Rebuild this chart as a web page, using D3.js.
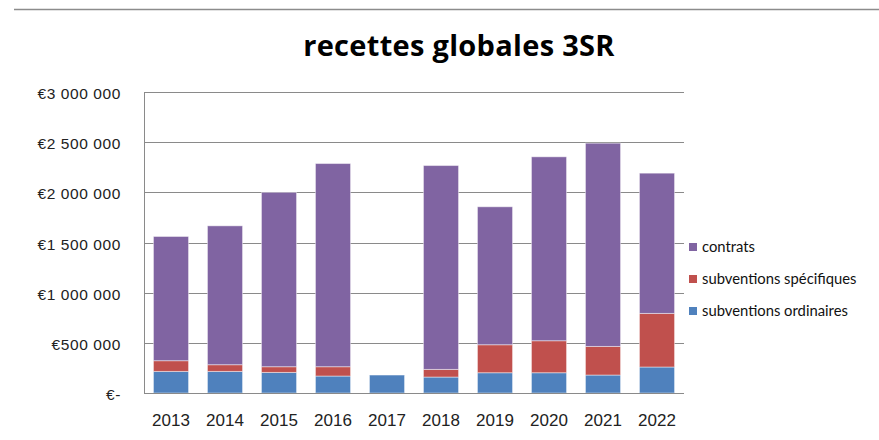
<!DOCTYPE html>
<html>
<head>
<meta charset="utf-8">
<script src="https://cdn.jsdelivr.net/npm/d3@7"></script>
<style>
  body { margin: 0; background: #fff; }
  svg { display: block; font-family: Lato, "Liberation Sans", sans-serif; }
</style>
</head>
<body>
<svg id="chart" width="879" height="440"></svg>
<script>
// données
var annees = ["2013","2014","2015","2016","2017","2018","2019","2020","2021","2022"];
var ordinaires  = [215000, 215000, 205000, 169000, 179000, 159000, 202000, 202000, 179000, 259000];
var specifiques = [107000,  67000,  57000,  93000,      0,  76000, 279000, 319000, 285000, 534000];
var contrats    = [1238000, 1384000, 1738000, 2025000, 0, 2032000, 1375000, 1833000, 2026000, 1398000];
var series = ["subventions ordinaires", "subventions spécifiques", "contrats"];
var couleurs = ["#4F81BD", "#C0504D", "#8064A2"];
var ticksY = [0, 500000, 1000000, 1500000, 2000000, 2500000, 3000000];

var svg = d3.select("#chart");
var margin = {left: 144, right: 195, top: 92, bottom: 47};
var width = 879, height = 440;

var rows = annees.map(function(a, i) {
  return {annee: a, "subventions ordinaires": ordinaires[i], "subventions spécifiques": specifiques[i], "contrats": contrats[i]};
});

var x = d3.scaleBand().domain(annees).range([margin.left, width - margin.right]).paddingInner(0.35).paddingOuter(0.175);
var y = d3.scaleLinear().domain([0, 3000000]).range([height - margin.bottom, margin.top]);
var color = d3.scaleOrdinal().domain(series).range(couleurs);

// ligne grise en haut
svg.append("line").attr("x1", 14).attr("x2", width).attr("y1", 9.5).attr("y2", 9.5)
  .attr("stroke", "#8c8c8c").attr("stroke-width", 1.5);

// titre
svg.append("text").attr("x", 459).attr("y", 56).attr("text-anchor", "middle")
  .attr("font-family", "'Open Sans', sans-serif")
  .style("font-size", "29px").style("font-weight", "bold").style("letter-spacing", "0.3px")
  .attr("fill", "#000")
  .text("recettes globales 3SR");

// grille
svg.append("g").selectAll("line").data(ticksY).enter().append("line")
  .attr("x1", margin.left).attr("x2", width - margin.right)
  .attr("y1", function(d) { return Math.round(y(d)) + 0.5; })
  .attr("y2", function(d) { return Math.round(y(d)) + 0.5; })
  .attr("stroke", "#8a8a8a").attr("stroke-width", 1);

// axe Y
var fmt = function(d) {
  if (d === 0) return "€-";
  return "€" + d3.format(",")(d).replace(/,/g, "\u00a0");
};
var yAxis = svg.append("g").attr("transform", "translate(" + margin.left + ",0)")
  .call(d3.axisLeft(y).tickValues(ticksY).tickFormat(fmt).tickSize(0).tickPadding(23));
yAxis.select(".domain").attr("stroke", "#8a8a8a");
yAxis.selectAll("text").style("font-size", "15.5px").style("letter-spacing", "0.6px")
  .attr("dy", "0.42em").attr("fill", "#222").attr("font-family", null);

// barres empilées
var stack = d3.stack().keys(series)(rows);
svg.append("g").selectAll("g").data(stack).enter().append("g")
  .attr("fill", function(d) { return color(d.key); })
  .selectAll("rect").data(function(d) { return d; }).enter().append("rect")
  .filter(function(d) { return d[1] - d[0] > 0; })
  .attr("x", function(d) { return x(d.data.annee); })
  .attr("width", x.bandwidth())
  .attr("y", function(d) { return y(d[1]); })
  .attr("height", function(d) { return y(d[0]) - y(d[1]); })
  .attr("stroke", "rgba(255,255,255,0.45)").attr("stroke-width", 1);

// axe X
var xAxis = svg.append("g").attr("transform", "translate(0," + (height - margin.bottom) + ")")
  .call(d3.axisBottom(x).tickSize(0).tickPadding(21));
xAxis.select(".domain").remove();
svg.append("line").attr("x1", margin.left).attr("x2", width - margin.right)
  .attr("y1", Math.round(height - margin.bottom) + 0.5).attr("y2", Math.round(height - margin.bottom) + 0.5)
  .attr("stroke", "#8a8a8a");
xAxis.selectAll("text").style("font-size", "17px").attr("fill", "#222").attr("font-family", null);

// légende
var legende = svg.append("g").selectAll("g").data(series.slice().reverse()).enter().append("g")
  .attr("transform", function(d, i) { return "translate(689," + (247 + i * 32) + ")"; });
legende.append("rect").attr("x", 0).attr("y", -4).attr("width", 8).attr("height", 8)
  .attr("fill", function(d) { return color(d); });
legende.append("text").attr("x", 13).attr("y", 0).attr("dy", "0.35em")
  .style("font-size", "14.8px").attr("fill", "#111").text(function(d) { return d; });
</script>
</body>
</html>
